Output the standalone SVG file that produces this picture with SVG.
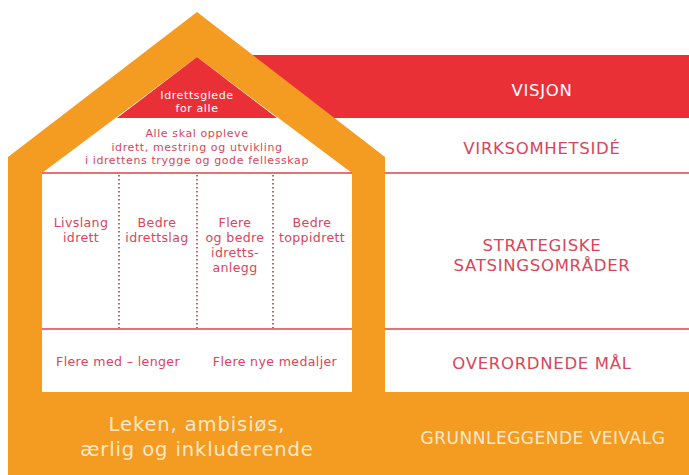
<svg xmlns="http://www.w3.org/2000/svg" width="689" height="475" viewBox="0 0 689 475">
<style>
.t{font-family:"DejaVu Sans","Liberation Sans",sans-serif;text-anchor:middle}
.r{fill:#d9455a}
.w{fill:#ffffff}
.c{fill:#fbe8cc}
.sep{stroke:#e2404a;stroke-width:1.6}
.dot{stroke:#b53a48;stroke-width:1.6;stroke-dasharray:1.6 2.4}
.s{font-size:11px;letter-spacing:0.6px}
.m{font-size:12.6px;letter-spacing:0.35px}
.L{font-size:16.5px;letter-spacing:0.7px}
.B{font-size:19.5px;letter-spacing:0.9px}
</style>
<rect width="689" height="475" fill="#ffffff"/>
<g id="visjon-band">
<rect x="197" y="55" width="492" height="63" fill="#ea3037"/>
</g>
<g id="house">
<polygon points="8,475 8,157 197,12 385,157 385,475" fill="#f49b22"/>
<polygon points="42,392 42,173 197,57 352,173 352,392" fill="#ffffff"/>
<polygon points="197,57 277,118 117,118" fill="#ea3037"/>
</g>
<g id="base">
<rect x="8" y="392" width="681" height="83" fill="#f49b22"/>
</g>
<g id="connectors">
<line class="sep" x1="42" y1="173" x2="352" y2="173"/>
<line class="sep" x1="385" y1="173" x2="689" y2="173"/>
<line class="sep" x1="42" y1="329" x2="352" y2="329"/>
<line class="sep" x1="385" y1="329" x2="689" y2="329"/>
<line class="dot" x1="119" y1="175" x2="119" y2="328"/>
<line class="dot" x1="197" y1="175" x2="197" y2="328"/>
<line class="dot" x1="273" y1="175" x2="273" y2="328"/>
</g>
<g id="node-idrettsglede">
<text class="t w s" x="197" y="99">Idrettsglede</text>
<text class="t w s" x="197" y="111.5">for alle</text>
</g>
<g id="node-virksomhetside-house">
<text class="t r s" x="197" y="137">Alle skal oppleve</text>
<text class="t r s" x="197" y="150.5">idrett, mestring og utvikling</text>
<text class="t r s" x="197" y="164">i idrettens trygge og gode fellesskap</text>
</g>
<g id="node-livslang">
<text class="t r m" x="81" y="227">Livslang</text>
<text class="t r m" x="81" y="242">idrett</text>
</g>
<g id="node-idrettslag">
<text class="t r m" x="157" y="227">Bedre</text>
<text class="t r m" x="157" y="242">idrettslag</text>
</g>
<g id="node-anlegg">
<text class="t r m" x="235" y="227">Flere</text>
<text class="t r m" x="235" y="242">og bedre</text>
<text class="t r m" x="235" y="257">idretts-</text>
<text class="t r m" x="235" y="272">anlegg</text>
</g>
<g id="node-toppidrett">
<text class="t r m" x="312" y="227">Bedre</text>
<text class="t r m" x="312" y="242">toppidrett</text>
</g>
<g id="node-mal">
<text class="t r m" x="118" y="366">Flere med – lenger</text>
<text class="t r m" x="275" y="366">Flere nye medaljer</text>
</g>
<g id="node-veivalg-house">
<text class="t c B" x="197" y="431">Leken, ambisiøs,</text>
<text class="t c B" x="197" y="456">ærlig og inkluderende</text>
</g>
<g id="label-visjon"><text class="t w L" x="542" y="96">VISJON</text></g>
<g id="label-virksomhetside"><text class="t r L" x="542" y="154">VIRKSOMHETSIDÉ</text></g>
<g id="label-strategiske">
<text class="t r L" x="542" y="251">STRATEGISKE</text>
<text class="t r L" x="542" y="271">SATSINGSOMRÅDER</text>
</g>
<g id="label-mal"><text class="t r L" x="542" y="369">OVERORDNEDE MÅL</text></g>
<g id="label-veivalg"><text class="t c" x="543" y="444" font-size="17" letter-spacing="0.5">GRUNNLEGGENDE VEIVALG</text></g>
</svg>
